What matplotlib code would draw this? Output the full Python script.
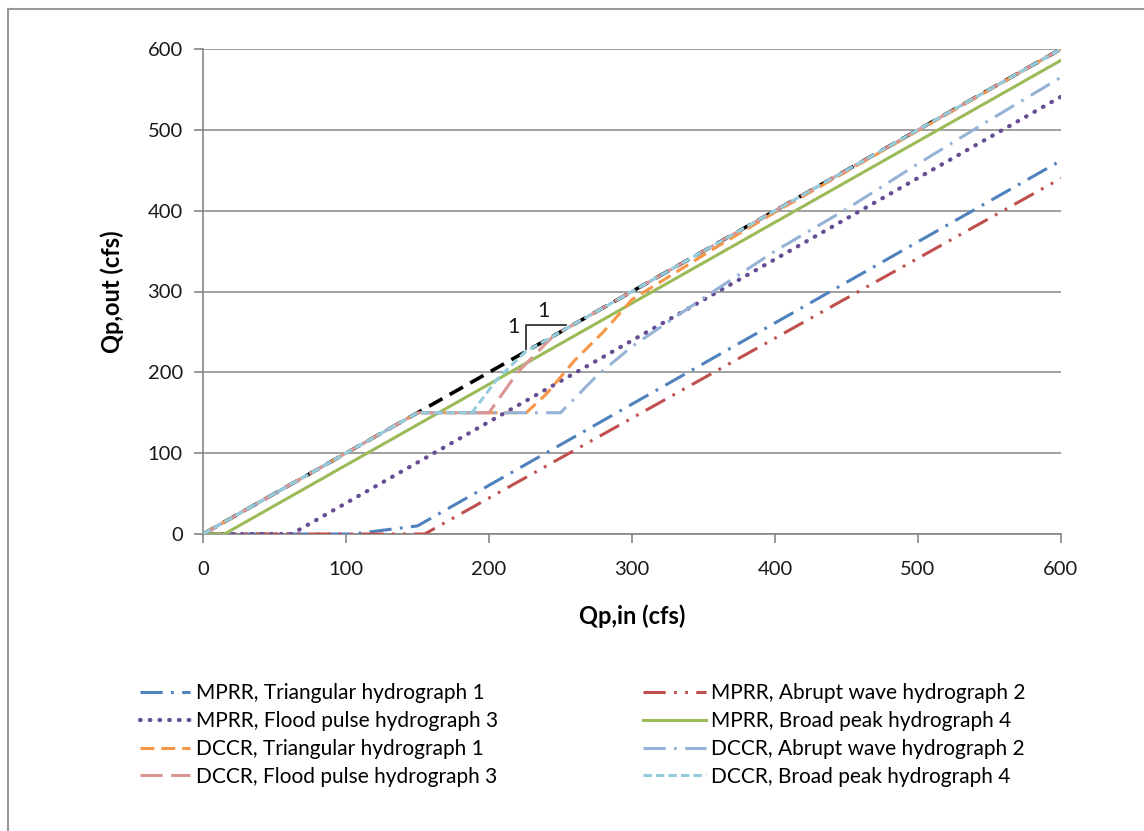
import matplotlib
matplotlib.use("Agg")
import matplotlib.pyplot as plt
from matplotlib.lines import Line2D

plt.rcParams['font.family'] = ['Lato', 'DejaVu Sans']
plt.rcParams['lines.scale_dashes'] = False

# Peak inflow (x) vs peak outflow (y), in cfs, for each routing method / hydrograph
one_to_one_x = [0, 600]
one_to_one_y = [0, 600]

mprr_tri_x = [0, 105, 150, 600]
mprr_tri_y = [0, 0, 10, 462]

mprr_abrupt_x = [0, 155, 600]
mprr_abrupt_y = [0, 0, 440]

mprr_flood_x = [0, 62, 600]
mprr_flood_y = [0, 0, 541]

mprr_broad_x = [0, 15, 600]
mprr_broad_y = [0, 0, 586]

dccr_tri_x = [0, 150, 226, 240, 260, 280, 300, 330, 360, 400, 600]
dccr_tri_y = [0, 150, 150, 173, 215, 250, 290, 323, 356, 398, 600]

dccr_abrupt_x = [0, 150, 250, 275, 300, 350, 400, 450, 500, 550, 600]
dccr_abrupt_y = [0, 150, 150, 195, 232, 292, 350, 402, 458, 512, 565]

dccr_flood_x = [0, 150, 200, 220, 245, 600]
dccr_flood_y = [0, 150, 150, 200, 245, 600]

dccr_broad_x = [0, 150, 188, 205, 225, 600]
dccr_broad_y = [0, 150, 150, 190, 225, 600]

x_ticks = [0, 100, 200, 300, 400, 500, 600]
y_ticks = [0, 100, 200, 300, 400, 500, 600]

W, H = 1144, 831
fig = plt.figure(figsize=(W / 100, H / 100), dpi=100)
ax = fig.add_axes([203 / W, 1 - 534 / H, (1061 - 203) / W, (534 - 49) / H])

grey = '#868686'
lw = 2.2

# reference 1:1 line
ax.plot(one_to_one_x, one_to_one_y, color='black', lw=2.6, dashes=(11, 6), zorder=2)

series = [
    (mprr_tri_x, mprr_tri_y, 'MPRR, Triangular hydrograph 1', '#4F81BD', (16, 6, 2, 6), 'butt'),
    (mprr_abrupt_x, mprr_abrupt_y, 'MPRR, Abrupt wave hydrograph 2', '#C0504D', (16, 6, 2, 6, 2, 6), 'butt'),
    (mprr_flood_x, mprr_flood_y, 'MPRR, Flood pulse hydrograph 3', '#664D94', (0.5, 6.5), 'round'),
    (mprr_broad_x, mprr_broad_y, 'MPRR, Broad peak hydrograph 4', '#9BBB59', None, 'butt'),
    (dccr_tri_x, dccr_tri_y, 'DCCR, Triangular hydrograph 1', '#F79646', (10, 5), 'butt'),
    (dccr_abrupt_x, dccr_abrupt_y, 'DCCR, Abrupt wave hydrograph 2', '#95B3D7', (16, 6, 2, 6), 'butt'),
    (dccr_flood_x, dccr_flood_y, 'DCCR, Flood pulse hydrograph 3', '#D99694', (16, 6), 'butt'),
    (dccr_broad_x, dccr_broad_y, 'DCCR, Broad peak hydrograph 4', '#93CDDD', (6, 3), 'butt'),
]

handles = {}
for i, (xs, ys, label, color, dash, cap) in enumerate(series):
    kw = dict(color=color, lw=lw if dash != (0.5, 6.5) else 3.0, label=label,
              zorder=3 + i, dash_capstyle=cap)
    if dash is not None:
        kw['dashes'] = dash
    line, = ax.plot(xs, ys, **kw)
    handles[label] = line

ax.set_xlim(0, 600)
ax.set_ylim(0, 600)
ax.set_xticks(x_ticks)
ax.set_yticks(y_ticks)
ax.yaxis.grid(True, color=grey, lw=1.1)
ax.set_axisbelow(True)
for s in ['top', 'right']:
    ax.spines[s].set_visible(False)
for s in ['left', 'bottom']:
    ax.spines[s].set_color(grey)
    ax.spines[s].set_linewidth(1.2)
ax.tick_params(axis='both', colors=grey, length=6.5, width=1.2, labelcolor='#1a1a1a',
               labelsize=14.5)
ax.tick_params(axis='x', pad=13)
ax.tick_params(axis='y', pad=8)

ax.set_xlabel('Qp,in (cfs)', fontsize=17, fontweight='bold', labelpad=19)
ax.set_ylabel('Qp,out (cfs)', fontsize=17, fontweight='bold', labelpad=17)

# slope indicator
ax.plot([226, 226, 254], [229, 259, 259], color='#333333', lw=1.3, zorder=20)
ax.text(217, 256, '1', fontsize=15.5, ha='center', va='center', color='#1a1a1a', zorder=20)
ax.text(238, 276, '1', fontsize=15.5, ha='center', va='center', color='#1a1a1a', zorder=20)

col1 = ['MPRR, Triangular hydrograph 1', 'MPRR, Flood pulse hydrograph 3',
        'DCCR, Triangular hydrograph 1', 'DCCR, Flood pulse hydrograph 3']
col2 = ['MPRR, Abrupt wave hydrograph 2', 'MPRR, Broad peak hydrograph 4',
        'DCCR, Abrupt wave hydrograph 2', 'DCCR, Broad peak hydrograph 4']

common = dict(frameon=False, fontsize=15, borderpad=0, borderaxespad=0,
              handletextpad=0.28, labelspacing=0.38, loc='upper left')
fig.legend([handles[k] for k in col1], col1, bbox_to_anchor=(140 / W, 1 - 683 / H),
           handlelength=2.4, **common)
fig.legend([handles[k] for k in col2], col2, bbox_to_anchor=(643 / W, 1 - 683 / H),
           handlelength=3.0, **common)

# outer chart frame (left and top edges)
fig.add_artist(Line2D([8 / W, 8 / W], [0, 1 - 9 / H], transform=fig.transFigure,
                      color='#999999', lw=1.5))
fig.add_artist(Line2D([8 / W, 1], [1 - 9 / H, 1 - 9 / H], transform=fig.transFigure,
                      color='#999999', lw=1.5))

fig.savefig('out.png', dpi=100)
